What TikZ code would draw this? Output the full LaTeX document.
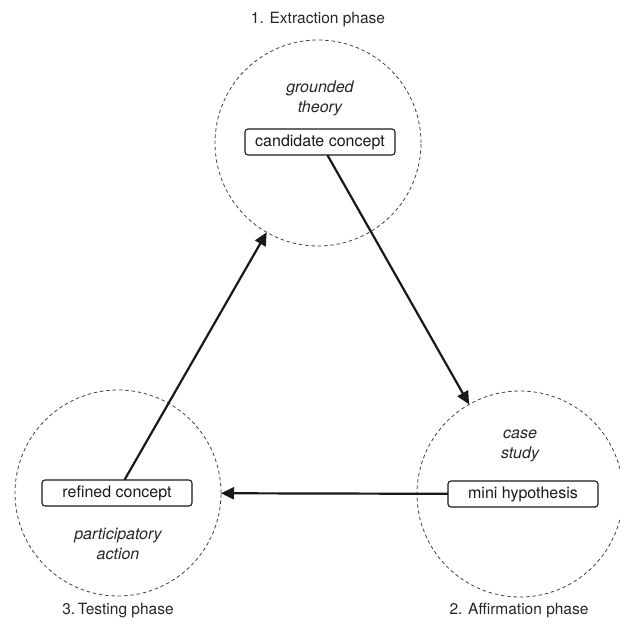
\documentclass[tikz,border=0pt]{standalone}
\usepackage{fontspec}
\setmainfont{TeX Gyre Heros}
\usetikzlibrary{arrows.meta}
\begin{document}
\begin{tikzpicture}[x=1pt,y=-1pt,
  phase/.style={circle,draw=black!75,dash pattern=on 3.5pt off 2.8pt,line width=0.8pt,minimum size=206pt,inner sep=0pt,outer sep=0pt},
  conc/.style={draw=black!90,line width=1.1pt,rounded corners=3pt,minimum width=150pt,minimum height=26pt,inner sep=0pt,outer sep=0pt,text=black!90,font=\fontsize{16}{18}\selectfont},
  meth/.style={align=center,font=\fontsize{16}{20}\itshape,text=black!85},
  ttl/.style={font=\fontsize{15.5}{18}\selectfont,text=black!85},
  arr/.style={draw=black!90,line width=2.2pt,-{Triangle[length=13pt,width=12pt]}}]
\useasboundingbox (0,0) rectangle (619,628);
\node[phase] (c1) at (318,143) {};
\node[phase] (c2) at (520,494) {};
\node[phase] (c3) at (118,493) {};
\node[conc] (cand) at (320,142) {candidate concept};
\node[conc] (mini) at (523,494) {mini hypothesis};
\node[conc] (ref) at (117,493) {refined concept};
\node[meth] (m1) at (320,98) {grounded\\theory};
\node[meth] (m2) at (520,446) {case\\study};
\node[meth] (m3) at (118,544) {participatory\\action};
\node[ttl] (t1) at (318,20) {1. Extraction phase};
\node[ttl] (t2) at (519,611) {2. Affirmation phase};
\node[ttl] (t3) at (118,611) {3.\,Testing phase};
\draw[arr] (cand) -- (c2);
\draw[arr] (mini) -- (c3);
\draw[arr] (ref) -- (c1);
\end{tikzpicture}
\end{document}
